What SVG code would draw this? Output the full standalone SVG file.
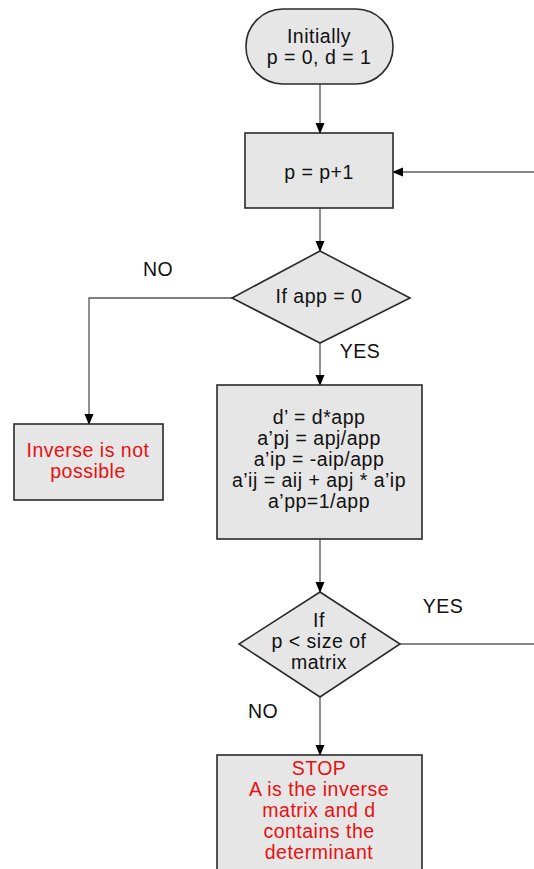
<svg xmlns="http://www.w3.org/2000/svg" width="534" height="869" viewBox="0 0 534 869">
<style>
.shape{fill:#e6e6e6;stroke:#2a2a2a;stroke-width:1.6}
.t{font-family:"Liberation Sans",Arial,sans-serif;font-size:19.5px;letter-spacing:0.5px;fill:#111;text-anchor:middle}
.r{fill:#e81010}
.c{fill:none;stroke:#555;stroke-width:1.3}
.h{fill:none;stroke:#111;stroke-width:1.2}
</style>
<defs>
<marker id="ah" markerWidth="11" markerHeight="11" refX="10" refY="5.5" orient="auto" markerUnits="userSpaceOnUse">
<path d="M0,1 L11,5.5 L0,10 Z" fill="#000"/>
</marker>
</defs>
<rect width="534" height="869" fill="#fff"/>
<g id="connectors">
<line class="c" x1="320" y1="84" x2="320" y2="133" marker-end="url(#ah)"/>
<line class="h" x1="534" y1="172" x2="393" y2="172" marker-end="url(#ah)"/>
<line class="c" x1="320" y1="208" x2="320" y2="251" marker-end="url(#ah)"/>
<polyline class="c" points="232,298 89,298 89,424" marker-end="url(#ah)"/>
<line class="c" x1="320" y1="343" x2="320" y2="385" marker-end="url(#ah)"/>
<line class="c" x1="320" y1="539" x2="320" y2="592" marker-end="url(#ah)"/>
<line class="h" x1="400" y1="644" x2="534" y2="644"/>
<line class="c" x1="320" y1="697" x2="320" y2="755" marker-end="url(#ah)"/>
<text class="t" x="158" y="276">NO</text>
<text class="t" x="360" y="358">YES</text>
<text class="t" x="443" y="613">YES</text>
<text class="t" x="263" y="718">NO</text>
</g>
<g id="start">
<rect class="shape" x="246" y="9" width="147" height="75" rx="37" ry="37"/>
<text class="t" x="319" y="43">Initially</text>
<text class="t" x="319" y="64">p = 0, d = 1</text>
</g>
<g id="increment">
<rect class="shape" x="245" y="133" width="148" height="75"/>
<text class="t" x="319" y="179">p = p+1</text>
</g>
<g id="check-app">
<polygon class="shape" points="320,251 410,298 320,343 232,298"/>
<text class="t" x="319" y="303">If app = 0</text>
</g>
<g id="not-possible">
<rect class="shape" x="14" y="424" width="149" height="76"/>
<text class="t r" x="88" y="457">Inverse is not</text>
<text class="t r" x="88" y="478">possible</text>
</g>
<g id="update">
<rect class="shape" x="217" y="385" width="205" height="154"/>
<text class="t" x="319" y="424">d’ = d*app</text>
<text class="t" x="319" y="445">a’pj = apj/app</text>
<text class="t" x="319" y="466">a’ip = -aip/app</text>
<text class="t" x="319" y="487">a’ij = aij + apj * a’ip</text>
<text class="t" x="319" y="508">a’pp=1/app</text>
</g>
<g id="check-size">
<polygon class="shape" points="320,592 400,644 320,697 239,644"/>
<text class="t" x="319" y="627">If</text>
<text class="t" x="319" y="648">p &lt; size of</text>
<text class="t" x="319" y="669">matrix</text>
</g>
<g id="stop">
<rect class="shape" x="217" y="755" width="205" height="130"/>
<text class="t r" x="319" y="775">STOP</text>
<text class="t r" x="319" y="796">A is the inverse</text>
<text class="t r" x="319" y="817">matrix and d</text>
<text class="t r" x="319" y="838">contains the</text>
<text class="t r" x="319" y="859">determinant</text>
</g>
</svg>
